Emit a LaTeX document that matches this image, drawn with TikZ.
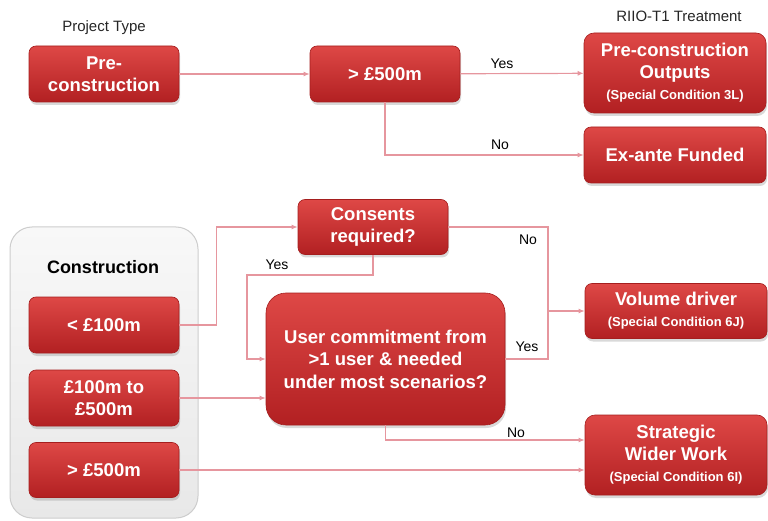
\documentclass[tikz,border=0pt]{standalone}
\usepackage{fontspec}
\setmainfont{Liberation Sans}
\usetikzlibrary{arrows.meta,shadows,calc}
\definecolor{boxtop}{RGB}{222,72,70}
\definecolor{boxbot}{RGB}{178,32,34}
\definecolor{boxedge}{RGB}{165,30,30}
\definecolor{connc}{RGB}{230,150,158}
\definecolor{greytop}{RGB}{248,248,248}
\definecolor{greybot}{RGB}{232,232,232}
\definecolor{greyedge}{RGB}{205,205,205}
\newcommand{\bigtxt}{\fontsize{18.5}{22}\selectfont\bfseries}
\newcommand{\smalltxt}{\fontsize{13}{15}\selectfont\bfseries}
\tikzset{
  rbox/.style={rounded corners=7pt, top color=boxtop, bottom color=boxbot,
    draw=boxedge, line width=0.6pt, text=white, align=center, inner sep=0pt,
    font=\bigtxt,
    drop shadow={opacity=0.3, shadow xshift=1pt, shadow yshift=-3pt}},
  conn/.style={draw=connc, line width=1.2pt, -{Latex[length=6pt,width=5pt]}},
  connplain/.style={draw=connc, line width=1.2pt},
  lbl/.style={font=\fontsize{14}{16}\selectfont, text=black, inner sep=0pt},
  head/.style={font=\fontsize{15}{17}\selectfont, text=black!85, inner sep=0pt},
}
\begin{document}
\begin{tikzpicture}[x=1pt,y=-1pt]
\useasboundingbox (0,0) rectangle (768,521);
% container
\node[draw=greyedge, line width=1pt, top color=greytop, bottom color=greybot,
  rounded corners=22pt, minimum width=188pt, minimum height=291pt, inner sep=0pt]
  (cont) at (104,372.5) {};
\node[font=\fontsize{18}{20}\selectfont\bfseries, inner sep=0pt] (contlbl) at (103,267) {Construction};

\node[head] (ptype) at (104,28) {Project Type};
\node[head] (riio) at (679,16) {RIIO-T1 Treatment};

\node[rbox, minimum width=150pt, minimum height=56pt] (pre) at (104,74) {Pre-\\construction};
\node[rbox, minimum width=150pt, minimum height=56pt] (big1) at (385,74) {> £500m};
\node[rbox, minimum width=182pt, minimum height=80pt, rounded corners=10pt] (pco) at (675,73)
  {Pre-construction\\Outputs\\[-1pt]{\smalltxt (Special Condition 3L)}};
\node[rbox, minimum width=182pt, minimum height=56pt] (exa) at (675,155) {Ex-ante Funded};

\node[rbox, minimum width=150pt, minimum height=56pt] (lt100) at (104,325) {< £100m};
\node[rbox, minimum width=150pt, minimum height=56pt] (mid) at (104,398) {£100m to\\£500m};
\node[rbox, minimum width=150pt, minimum height=55pt] (gt500) at (104,470) {> £500m};

\node[rbox, minimum width=150pt, minimum height=55pt] (consents) at (373,227) {Consents\\required?};
\node[rbox, minimum width=239pt, minimum height=132pt, rounded corners=20pt, font=\fontsize{18.5}{22.5}\selectfont\bfseries] (user) at (385.5,359)
  {User commitment from\\>1 user \& needed\\under most scenarios?};
\node[rbox, minimum width=182pt, minimum height=55pt] (vol) at (676,311)
  {Volume driver\\[-1pt]{\smalltxt (Special Condition 6J)}};
\node[rbox, minimum width=182pt, minimum height=80pt, rounded corners=10pt] (sww) at (676,455)
  {Strategic\\Wider Work\\[-1pt]{\smalltxt (Special Condition 6I)}};

% connectors top
\draw[conn] (pre) -- (big1);
\draw[conn] (big1) -- (pco);
\node[lbl] (yes1) at (502,64) {Yes};
\draw[conn] (big1) -- (big1 |- exa) -- (exa);
\node[lbl] (no1) at (500,145) {No};

% connectors bottom
\draw[conn] (lt100.east) -- ++(37,0) |- (consents.west);
\coordinate (c1) at (373,275);
\coordinate (c2) at (247,275);
\draw[conn] (consents.south) -- (c1) -- (c2) |- (user.west);
\node[lbl] (yes2) at (277,265) {Yes};
\draw[conn] (mid.east) -- (mid.east -| user.west);
\draw[conn] (gt500.east) -- (gt500.east -| sww.west);
\coordinate (j) at (548,311);
\draw[conn] (consents.east) -| (j) -- (vol.west);
\draw[connplain] (user.east) -| (j);
\node[lbl] (no2) at (528,240) {No};
\node[lbl] (yes3) at (527,347) {Yes};
\draw[conn] (user.south) |- ([yshift=15pt]sww.west);
\node[lbl] (no3) at (516,433) {No};
\end{tikzpicture}
\end{document}
